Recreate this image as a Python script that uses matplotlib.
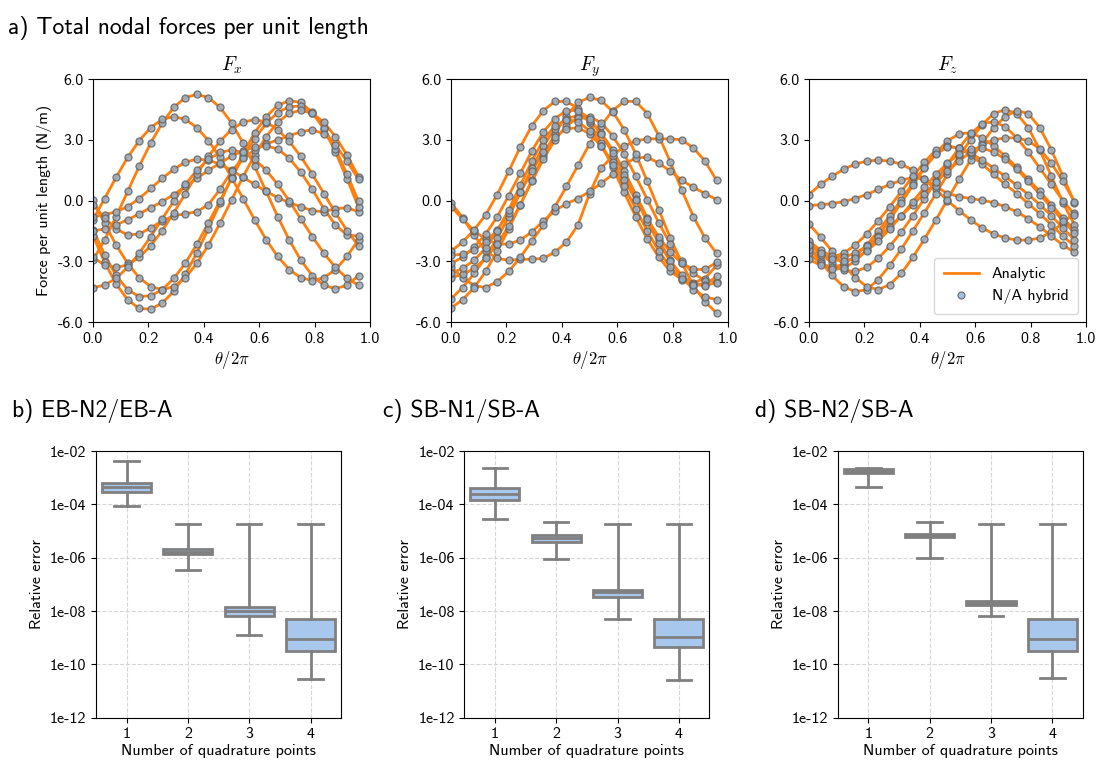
import numpy as np
import matplotlib
matplotlib.use('Agg')
import matplotlib.pyplot as plt
from matplotlib.lines import Line2D
from matplotlib.ticker import FormatStrFormatter, NullLocator

plt.rcParams['font.family'] = ['cmss10', 'DejaVu Sans']
plt.rcParams['mathtext.fontset'] = 'cm'
plt.rcParams['axes.unicode_minus'] = False

# angular position along the ring, theta / 2pi
theta = np.arange(24) / 24

# nodal force per unit length (N/m), one list per load case
fx_curves = [
    [-2.94, -1.95, -0.79, 0.45, 1.69, 2.85, 3.84, 4.61, 5.09, 5.25, 5.09, 4.61,
     3.84, 2.85, 1.69, 0.45, -0.79, -1.95, -2.94, -3.71, -4.19, -4.35, -4.19, -3.71],
    [-0.95, 0.10, 1.15, 2.13, 2.96, 3.61, 4.01, 4.15, 4.01, 3.61, 2.96, 2.13,
     1.15, 0.10, -0.95, -1.93, -2.76, -3.41, -3.81, -3.95, -3.81, -3.41, -2.76, -1.93],
    [-0.80, -0.70, -0.55, -0.30, 0.10, 0.60, 1.10, 1.55, 1.90, 2.05, 2.00, 1.80,
     1.50, 1.15, 0.80, 0.45, 0.15, -0.10, -0.30, -0.50, -0.55, -0.40, -0.35, -0.55],
    [-1.73, -3.04, -4.12, -4.90, -5.33, -5.36, -5.06, -4.48, -3.64, -2.58, -1.38, -0.13,
     1.14, 2.32, 3.35, 4.15, 4.70, 4.94, 4.85, 4.36, 3.54, 2.41, 1.08, -0.32],
    [-1.43, -2.67, -3.70, -4.41, -4.74, -4.70, -4.40, -3.84, -3.09, -2.16, -1.10, -0.02,
     1.10, 2.15, 3.05, 3.81, 4.35, 4.64, 4.67, 4.32, 3.61, 2.57, 1.30, -0.04],
    [0.03, -1.12, -2.19, -3.10, -3.81, -4.25, -4.40, -4.25, -3.81, -3.10, -2.19, -1.12,
     0.03, 1.18, 2.25, 3.16, 3.87, 4.31, 4.46, 4.31, 3.87, 3.16, 2.25, 1.18],
    [-0.20, -0.85, -1.40, -1.70, -1.65, -1.35, -1.00, -0.75, -0.65, -0.55, -0.20, 0.55,
     1.45, 2.10, 2.50, 2.80, 3.00, 3.20, 3.40, 3.50, 3.30, 2.75, 1.95, 1.05],
    [-1.50, -1.40, -1.20, -0.95, -0.65, -0.35, -0.05, 0.30, 0.70, 1.10, 1.50, 1.85,
     2.20, 2.45, 2.65, 2.70, 2.55, 2.10, 1.40, 0.55, -0.40, -1.20, -1.70, -1.75],
    [-2.81, -3.18, -3.30, -3.18, -2.81, -2.23, -1.48, -0.60, 0.35, 1.30, 2.18, 2.93,
     3.51, 3.88, 4.00, 3.88, 3.51, 2.93, 2.18, 1.30, 0.35, -0.60, -1.48, -2.23],
    [-4.30, -4.18, -3.84, -3.30, -2.60, -1.78, -0.90, -0.02, 0.80, 1.50, 2.04, 2.38,
     2.50, 2.38, 2.04, 1.50, 0.80, -0.02, -0.90, -1.78, -2.60, -3.30, -3.84, -4.18],
]

fy_curves = [
    [-0.10, -0.85, -1.70, -2.50, -2.85, -2.95, -2.90, -2.90, -2.85, -2.55, -2.05, -1.20,
     0.35, 1.60, 2.20, 2.70, 2.95, 3.05, 3.05, 3.05, 3.00, 2.60, 1.95, 1.00],
    [-0.30, -0.90, -1.50, -1.90, -2.15, -2.15, -1.95, -1.55, -1.00, -0.50, -0.15, 0.10,
     0.45, 0.85, 1.30, 1.80, 2.10, 2.15, 1.85, 1.45, 1.00, 0.65, 0.35, 0.05],
    [-3.30, -3.80, -4.20, -4.30, -4.00, -3.50, -2.80, -2.00, -1.20, -0.30, 0.70, 1.75,
     2.80, 3.70, 4.45, 4.90, 4.90, 4.30, 3.20, 1.90, 0.50, -0.80, -1.85, -2.60],
    [-5.30, -4.90, -4.30, -3.50, -2.50, -1.40, -0.20, 1.00, 2.20, 3.30, 4.20, 4.85,
     5.10, 4.95, 4.40, 3.50, 2.30, 0.95, -0.45, -1.85, -3.10, -4.20, -5.00, -5.55],
    [-2.50, -2.05, -1.45, -0.70, 0.30, 1.45, 2.65, 3.70, 4.45, 4.90, 4.90, 4.55,
     3.85, 2.85, 1.65, 0.40, -0.80, -1.90, -2.80, -3.50, -3.90, -4.05, -3.85, -3.20],
    [-4.85, -4.30, -3.60, -2.80, -1.85, -0.80, 0.40, 1.60, 2.70, 3.55, 4.05, 4.20,
     3.95, 3.35, 2.50, 1.45, 0.30, -0.85, -1.95, -2.95, -3.80, -4.40, -4.75, -4.90],
    [-3.80, -3.65, -3.35, -2.85, -2.15, -1.25, -0.20, 0.95, 2.05, 3.00, 3.70, 4.10,
     4.15, 3.85, 3.20, 2.30, 1.20, 0.05, -1.10, -2.15, -3.00, -3.60, -3.95, -4.00],
    [-3.10, -2.80, -2.30, -1.65, -0.80, 0.25, 1.35, 2.45, 3.40, 4.05, 4.45, 4.45,
     4.05, 3.30, 2.35, 1.25, 0.10, -1.05, -2.10, -3.00, -3.70, -4.10, -4.15, -3.75],
    [-2.70, -2.65, -2.45, -2.05, -1.45, -0.60, 0.40, 1.45, 2.40, 3.15, 3.55, 3.60,
     3.30, 2.70, 1.90, 1.00, 0.05, -0.90, -1.80, -2.55, -3.10, -3.40, -3.40, -3.05],
    [-3.60, -3.35, -2.95, -2.35, -1.50, -0.45, 0.75, 1.95, 3.00, 3.70, 4.00, 3.90,
     3.45, 2.70, 1.75, 0.70, -0.40, -1.50, -2.50, -3.30, -3.85, -4.15, -4.20, -4.05],
]

fz_curves = [
    [0.30, 0.80, 1.20, 1.55, 1.80, 1.95, 2.00, 1.95, 1.80, 1.50, 1.05, 0.55,
     0.00, -0.50, -0.95, -1.35, -1.65, -1.85, -1.95, -1.95, -1.85, -1.55, -1.10, -0.60],
    [-0.25, -0.20, -0.15, -0.05, 0.10, 0.30, 0.55, 0.80, 1.00, 1.15, 1.05, 0.70,
     0.35, 0.20, 0.10, 0.02, -0.10, -0.30, -0.55, -0.90, -1.30, -1.75, -2.20, -2.55],
    [-2.30, -3.00, -3.70, -4.25, -4.50, -4.40, -3.90, -3.20, -2.40, -1.50, -0.60, 0.35,
     1.30, 2.20, 3.00, 3.75, 4.30, 4.50, 4.30, 3.60, 2.50, 1.20, -0.10, -1.20],
    [-1.15, -1.80, -2.50, -3.20, -3.80, -4.25, -4.40, -4.15, -3.60, -2.80, -1.90, -0.95,
     0.05, 1.05, 2.00, 2.85, 3.60, 4.15, 4.45, 4.30, 3.60, 2.50, 1.20, -0.10],
    [-2.10, -2.60, -3.10, -3.45, -3.50, -3.30, -2.85, -2.25, -1.55, -0.75, 0.10, 0.95,
     1.80, 2.60, 3.30, 3.80, 3.90, 3.65, 3.10, 2.40, 1.60, 0.80, 0.00, -0.70],
    [-2.60, -3.10, -3.30, -3.15, -2.75, -2.20, -1.50, -0.75, 0.05, 0.85, 1.65, 2.35,
     2.95, 3.30, 3.35, 3.10, 2.70, 2.20, 1.65, 1.05, 0.45, -0.20, -0.85, -1.45],
    [-2.45, -2.70, -2.80, -2.60, -2.20, -1.65, -1.00, -0.30, 0.45, 1.20, 1.90, 2.50,
     2.70, 2.60, 2.25, 1.80, 1.30, 0.80, 0.35, -0.15, -0.65, -1.20, -1.75, -2.25],
    [-2.90, -3.20, -3.40, -3.35, -3.00, -2.45, -1.75, -0.95, -0.10, 0.75, 1.60, 2.30,
     2.65, 2.60, 2.35, 2.00, 1.60, 1.20, 0.75, 0.30, -0.20, -0.75, -1.35, -1.95],
    [-2.00, -2.45, -2.75, -2.80, -2.60, -2.25, -1.80, -1.30, -0.75, -0.20, 0.35, 0.90,
     1.45, 1.95, 2.40, 2.75, 3.00, 3.10, 3.10, 2.95, 2.55, 1.85, 0.95, -0.05],
    [-2.20, -2.60, -2.90, -3.00, -2.85, -2.50, -2.00, -1.40, -0.75, -0.05, 0.65, 1.30,
     1.85, 2.30, 2.55, 2.60, 2.40, 2.05, 1.55, 0.95, 0.30, -0.35, -1.00, -1.60],
]

force_titles = [r'$F_x$', r'$F_y$', r'$F_z$']

# relative error statistics per number of quadrature points (1..4)
n_quad = [1, 2, 3, 4]
err_titles = ['b) EB-N2/EB-A', 'c) SB-N1/SB-A', 'd) SB-N2/SB-A']
err_whislo = [[8.7e-5, 3.6e-7, 1.26e-9, 2.75e-11],
              [2.8e-5, 8.9e-7, 5.0e-9, 2.5e-11],
              [4.6e-4, 1.0e-6, 6.6e-9, 3.2e-11]]
err_q1 = [[3.0e-4, 1.4e-6, 6.6e-9, 3.2e-10],
          [1.4e-4, 4.0e-6, 3.5e-8, 4.4e-10],
          [1.55e-3, 5.75e-6, 1.66e-8, 3.2e-10]]
err_med = [[4.4e-4, 1.7e-6, 1.0e-8, 9.3e-10],
           [2.45e-4, 5.3e-6, 5.0e-8, 1.1e-9],
           [1.78e-3, 6.6e-6, 1.95e-8, 9.3e-10]]
err_q3 = [[6.3e-4, 2.1e-6, 1.45e-8, 5.0e-9],
          [4.2e-4, 7.2e-6, 6.2e-8, 5.0e-9],
          [2.04e-3, 7.5e-6, 2.3e-8, 5.0e-9]]
err_whishi = [[4.2e-3, 1.9e-5, 1.9e-5, 1.9e-5],
              [2.3e-3, 2.1e-5, 1.9e-5, 1.9e-5],
              [2.4e-3, 2.1e-5, 1.9e-5, 1.9e-5]]

orange = '#ff7f0e'
dot_face = '#98aec4'
dot_edge = '#666666'
box_gray = '#808080'
box_blue = '#a7c8ec'

fig = plt.figure(figsize=(11.02, 7.76), dpi=100)

# top row: force components
top_lefts = [0.0844, 0.4093, 0.7341]
for i, curves in enumerate([fx_curves, fy_curves, fz_curves]):
    ax = fig.add_axes([top_lefts[i], 0.585, 0.2514, 0.313])
    for vals in curves:
        ax.plot(theta, vals, color=orange, lw=2, zorder=1)
        ax.plot(theta, vals, 'o', ms=5, mfc=dot_face, mec=dot_edge,
                mew=1.0, alpha=0.85, zorder=2)
    ax.set_xlim(0, 1)
    ax.set_ylim(-6, 6)
    ax.set_xticks(np.arange(0, 1.01, 0.2))
    ax.set_yticks([-6, -3, 0, 3, 6])
    ax.xaxis.set_major_formatter(FormatStrFormatter('%.1f'))
    ax.yaxis.set_major_formatter(FormatStrFormatter('%.1f'))
    ax.tick_params(labelsize=11.5)
    ax.set_title(force_titles[i], fontsize=14, pad=6)
    ax.set_xlabel(r'$\theta/2\pi$', fontsize=12, labelpad=2)
    if i == 0:
        ax.set_ylabel('Force per unit length (N/m)', fontsize=11.5)
    if i == 2:
        handles = [Line2D([], [], color=orange, lw=2),
                   Line2D([], [], ls='', marker='o', ms=5, mfc='#9ec3e6',
                          mec=dot_edge, mew=0.8)]
        ax.legend(handles, ['Analytic', 'N/A hybrid'], loc='lower right',
                  fontsize=11.5, borderpad=0.6, handlelength=2.2)

fig.text(0.007, 0.964, 'a) Total nodal forces per unit length',
         fontsize=17, va='center')

# bottom row: relative error box plots
bot_lefts = [0.0871, 0.4213, 0.7602]
title_x = [0.011, 0.3475, 0.685]
for i in range(3):
    ax = fig.add_axes([bot_lefts[i], 0.0751, 0.2225, 0.3437])
    stats = []
    for j in range(4):
        stats.append({'whislo': err_whislo[i][j], 'q1': err_q1[i][j],
                      'med': err_med[i][j], 'q3': err_q3[i][j],
                      'whishi': err_whishi[i][j]})
    ax.bxp(stats, positions=n_quad, widths=0.8, patch_artist=True,
           showfliers=False, capwidths=0.4,
           boxprops=dict(facecolor=box_blue, edgecolor=box_gray, lw=2),
           whiskerprops=dict(color=box_gray, lw=2),
           capprops=dict(color=box_gray, lw=2),
           medianprops=dict(color=box_gray, lw=2))
    ax.set_yscale('log')
    ax.set_ylim(1e-12, 1e-2)
    ax.set_xlim(0.5, 4.5)
    ticks = [1e-2, 1e-4, 1e-6, 1e-8, 1e-10, 1e-12]
    ax.set_yticks(ticks)
    ax.set_yticklabels(['%.0e' % t for t in ticks])
    ax.yaxis.set_minor_locator(NullLocator())
    ax.set_xticks(n_quad)
    ax.set_xticklabels([str(n) for n in n_quad])
    ax.grid(True, ls='--', color='#d6d6d6', lw=0.8)
    ax.set_axisbelow(True)
    ax.tick_params(labelsize=11.5)
    ax.set_xlabel('Number of quadrature points', fontsize=11.5, labelpad=2)
    ax.set_ylabel('Relative error', fontsize=11.5)
    fig.text(title_x[i], 0.47, err_titles[i], fontsize=17, va='center')

fig.savefig('out.png', dpi=100)
